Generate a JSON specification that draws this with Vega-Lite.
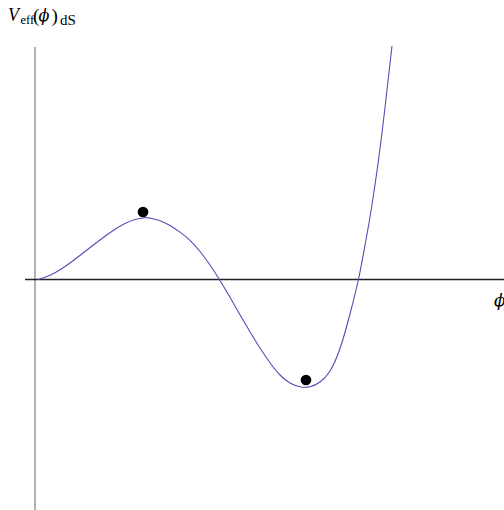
{
  "$schema": "https://vega.github.io/schema/vega-lite/v6.json",
  "width": 504,
  "height": 510,
  "padding": 0,
  "autosize": "none",
  "background": "white",
  "config": {"view": {"stroke": null}},
  "datasets": {
    "curve": [
      {"phi": 0.0, "V": 0.0},
      {"phi": 0.07, "V": 0.022},
      {"phi": 0.17, "V": 0.068},
      {"phi": 0.27, "V": 0.13},
      {"phi": 0.37, "V": 0.203},
      {"phi": 0.47, "V": 0.28},
      {"phi": 0.57, "V": 0.357},
      {"phi": 0.67, "V": 0.432},
      {"phi": 0.77, "V": 0.502},
      {"phi": 0.87, "V": 0.56},
      {"phi": 0.97, "V": 0.6},
      {"phi": 1.07, "V": 0.618},
      {"phi": 1.12, "V": 0.614},
      {"phi": 1.22, "V": 0.588},
      {"phi": 1.32, "V": 0.54},
      {"phi": 1.42, "V": 0.474},
      {"phi": 1.52, "V": 0.392},
      {"phi": 1.62, "V": 0.28},
      {"phi": 1.72, "V": 0.145},
      {"phi": 1.82, "V": -0.01},
      {"phi": 1.92, "V": -0.178},
      {"phi": 2.02, "V": -0.352},
      {"phi": 2.12, "V": -0.522},
      {"phi": 2.22, "V": -0.685},
      {"phi": 2.32, "V": -0.832},
      {"phi": 2.42, "V": -0.955},
      {"phi": 2.52, "V": -1.035},
      {"phi": 2.62, "V": -1.072},
      {"phi": 2.72, "V": -1.072},
      {"phi": 2.82, "V": -1.025},
      {"phi": 2.92, "V": -0.915},
      {"phi": 3.02, "V": -0.69},
      {"phi": 3.12, "V": -0.345},
      {"phi": 3.203, "V": -0.005},
      {"phi": 3.253, "V": 0.25},
      {"phi": 3.32, "V": 0.625},
      {"phi": 3.403, "V": 1.18},
      {"phi": 3.47, "V": 1.72},
      {"phi": 3.54, "V": 2.335}
    ],
    "dots": [
      {"phi": 1.05, "V": 0.675},
      {"phi": 2.68, "V": -1.005}
    ],
    "axes": [
      {"axis": "x", "x1": -0.13, "x2": 4.66, "y1": 0, "y2": 0},
      {"axis": "y", "x1": -0.03, "x2": -0.03, "y1": 2.325, "y2": -2.305}
    ],
    "one": [{}]
  },
  "encoding": {
    "x": {"type": "quantitative", "scale": {"domain": [-0.38, 4.66], "nice": false, "zero": false}, "axis": null},
    "y": {"type": "quantitative", "scale": {"domain": [-2.305, 2.795], "nice": false, "zero": false}, "axis": null}
  },
  "layer": [
    {
      "data": {"name": "axes"},
      "transform": [{"filter": "datum.axis === 'y'"}],
      "mark": {"type": "rule", "color": "#999999", "strokeWidth": 1.5},
      "encoding": {
        "x": {"field": "x1", "type": "quantitative"},
        "y": {"field": "y1", "type": "quantitative"},
        "y2": {"field": "y2"}
      }
    },
    {
      "data": {"name": "axes"},
      "transform": [{"filter": "datum.axis === 'x'"}],
      "mark": {"type": "rule", "color": "#222222", "strokeWidth": 1.3},
      "encoding": {
        "x": {"field": "x1", "type": "quantitative"},
        "x2": {"field": "x2"},
        "y": {"field": "y1", "type": "quantitative"}
      }
    },
    {
      "data": {"name": "curve"},
      "mark": {"type": "line", "color": "#4f4fb5", "strokeWidth": 1.1, "interpolate": "natural"},
      "encoding": {
        "x": {"field": "phi", "type": "quantitative"},
        "y": {"field": "V", "type": "quantitative"}
      }
    },
    {
      "data": {"name": "dots"},
      "mark": {"type": "point", "filled": true, "color": "black", "opacity": 1, "size": 115},
      "encoding": {
        "x": {"field": "phi", "type": "quantitative"},
        "y": {"field": "V", "type": "quantitative"}
      }
    },
    {
      "data": {"name": "one"},
      "mark": {"type": "text", "text": "V", "font": "Liberation Serif", "fontStyle": "italic", "fontSize": 18, "align": "left", "baseline": "alphabetic", "color": "black"},
      "encoding": {"x": {"datum": -0.30}, "y": {"datum": 2.585}}
    },
    {
      "data": {"name": "one"},
      "mark": {"type": "text", "text": "eff", "font": "Liberation Serif", "fontSize": 12.5, "align": "left", "baseline": "alphabetic", "color": "black"},
      "encoding": {"x": {"datum": -0.175}, "y": {"datum": 2.555}}
    },
    {
      "data": {"name": "one"},
      "mark": {"type": "text", "text": "(", "font": "Liberation Serif", "fontSize": 19, "align": "left", "baseline": "alphabetic", "color": "black"},
      "encoding": {"x": {"datum": -0.05}, "y": {"datum": 2.58}}
    },
    {
      "data": {"name": "one"},
      "mark": {"type": "text", "text": "ϕ", "font": "DejaVu Serif", "fontStyle": "italic", "fontSize": 16, "align": "left", "baseline": "alphabetic", "color": "black"},
      "encoding": {"x": {"datum": 0.005}, "y": {"datum": 2.585}}
    },
    {
      "data": {"name": "one"},
      "mark": {"type": "text", "text": ")", "font": "Liberation Serif", "fontSize": 19, "align": "left", "baseline": "alphabetic", "color": "black"},
      "encoding": {"x": {"datum": 0.135}, "y": {"datum": 2.58}}
    },
    {
      "data": {"name": "one"},
      "mark": {"type": "text", "text": "dS", "font": "Liberation Serif", "fontSize": 15, "align": "left", "baseline": "alphabetic", "color": "black"},
      "encoding": {"x": {"datum": 0.22}, "y": {"datum": 2.545}}
    },
    {
      "data": {"name": "one"},
      "mark": {"type": "text", "text": "ϕ", "font": "DejaVu Serif", "fontStyle": "italic", "fontSize": 17, "align": "left", "baseline": "alphabetic", "color": "black"},
      "encoding": {"x": {"datum": 4.56}, "y": {"datum": -0.265}}
    }
  ]
}
